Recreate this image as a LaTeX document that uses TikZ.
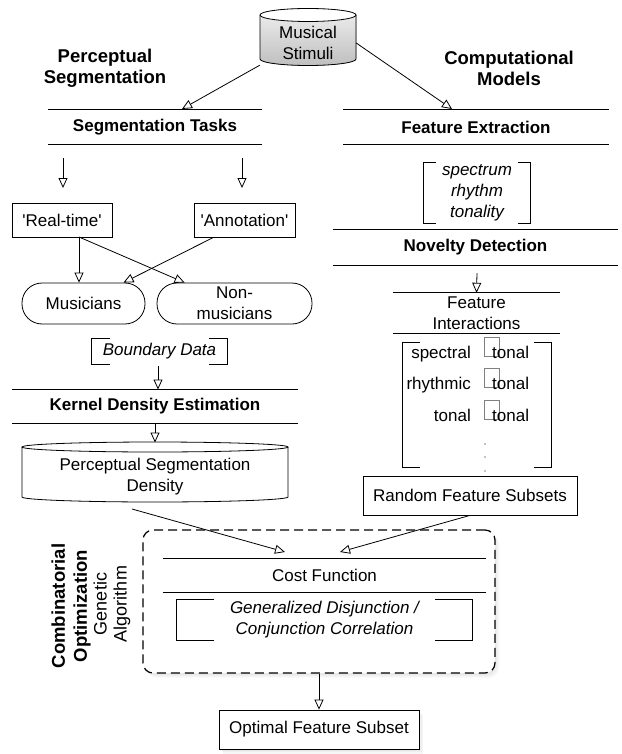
\documentclass[tikz,border=0pt]{standalone}
\usepackage{fontspec}
\setmainfont{Liberation Sans}
\usetikzlibrary{arrows.meta,calc,shadows}
\newcommand\brk[2]{%
  \draw[ln] ($(#1.north west)+(#2,0)$) -| (#1.south west) -- ++(#2,0);
  \draw[ln] ($(#1.north east)+(-#2,0)$) -| (#1.south east) -- ++(-#2,0);}
\newcommand\sect[1]{%
  \draw[ln] (#1.north west) -- (#1.north east);
  \draw[ln] (#1.south west) -- (#1.south east);}
\begin{document}
\begin{tikzpicture}[x=1pt,y=-1pt,
  every node/.style={font=\fontsize{17}{21}\selectfont, inner sep=0pt, align=center},
  hd/.style={font=\fontsize{17}{20.5}\selectfont\bfseries},
  bighd/.style={font=\fontsize{18.5}{21}\selectfont\bfseries},
  it/.style={font=\fontsize{17}{21}\selectfont\itshape},
  ln/.style={line width=0.8pt},
  arr/.style={line width=0.8pt, -{Triangle[open,length=10pt,width=9pt]}},
  sq/.style={draw=gray, line width=0.7pt, minimum width=15pt, minimum height=19pt},
  bx/.style={draw, line width=0.8pt, fill=white},
  softshadow/.style={
    drop shadow={shadow xshift=1pt, shadow yshift=-1.5pt, opacity=0.07},
    drop shadow={shadow xshift=2.5pt, shadow yshift=-3pt, opacity=0.07},
    drop shadow={shadow xshift=4pt, shadow yshift=-4.5pt, opacity=0.07}}
]
\useasboundingbox (0,0) rectangle (621,754);

% Musical stimuli cylinder
\fill[top color=gray!12, bottom color=gray!50] (260,15) -- (260,59)
  arc[start angle=180,end angle=360,x radius=48pt,y radius=6.5pt] -- (356,15)
  arc[start angle=0,end angle=180,x radius=48pt,y radius=6.5pt] -- cycle;
\draw[ln] (260,15) -- (260,59)
  arc[start angle=180,end angle=360,x radius=48pt,y radius=6.5pt] -- (356,15);
\draw[ln, fill=white] (308,15) ellipse [x radius=48pt, y radius=6.5pt];
\node[minimum width=96pt, minimum height=44pt] (stim) at (308,43) {Musical\\Stimuli};

% headings
\node[bighd] (perc) at (105,68) {Perceptual\\Segmentation};
\node[bighd] (comp) at (509,68) {Computational\\Models};

% sections
\node[hd, minimum width=214pt, minimum height=34pt] (segtasks) at (155,127) {Segmentation Tasks};
\sect{segtasks}
\node[hd, minimum width=266pt, minimum height=34pt] (featext) at (476,127) {Feature Extraction};
\sect{featext}
\node[hd, minimum width=285pt, minimum height=35pt] (novelty) at (475.5,247.5) {Novelty Detection};
\sect{novelty}
\node[minimum width=167pt, minimum height=40pt] (featint) at (476.5,313) {Feature\\Interactions};
\sect{featint}
\node[hd, minimum width=286pt, minimum height=33pt] (kde) at (155,406.5) {Kernel Density Estimation};
\sect{kde}

% spectrum bracket
\node[it, minimum width=106pt, minimum height=60pt] (spec) at (477,193) {spectrum\\rhythm\\tonality};
\brk{spec}{12}

% left boxes
\node[bx, minimum width=100pt, minimum height=34pt] (rt) at (62,220) {\textquotesingle Real-time\textquotesingle};
\node[bx, minimum width=101pt, minimum height=34pt] (ann) at (244.5,220) {\textquotesingle Annotation\textquotesingle};
\node[bx, rounded corners=20pt, minimum width=123pt, minimum height=41pt] (mus) at (83.5,303.5) {Musicians};
\node[bx, rounded corners=20pt, minimum width=155pt, minimum height=41pt] (nonmus) at (234.5,303.5) {Non-\\musicians};

\node[it, minimum width=135pt, minimum height=25pt] (bdata) at (159.5,351.5) {Boundary Data};
\brk{bdata}{18}

% density cylinder
\draw[ln, fill=white] (22,447) -- (22,497)
  arc[start angle=180,end angle=360,x radius=133pt,y radius=5pt] -- (288,447);
\draw[ln] (155,447) ellipse [x radius=133pt, y radius=5pt];
\node[minimum width=266pt, minimum height=50pt] (dens) at (155,477) {Perceptual Segmentation\\Density};

% matrix
\node[minimum width=148pt, minimum height=124pt] (mat) at (477,405) {};
\brk{mat}{17}
\node[sq] (sq1) at (491.5,346.5) {};
\node[sq] (sq2) at (491.5,378) {};
\node[sq] (sq3) at (491.5,410) {};
\node[anchor=base east] (l1) at (471,358) {spectral};
\node[anchor=base east] (l2) at (471,389.5) {rhythmic};
\node[anchor=base east] (l3) at (471,421.5) {tonal};
\node[anchor=base west] (r1) at (492,358) {tonal};
\node[anchor=base west] (r2) at (492,389.5) {tonal};
\node[anchor=base west] (r3) at (492,421.5) {tonal};
\foreach \yy in {444,457,471} \fill (485,\yy) circle (0.7pt);

\node[bx, minimum width=214pt, minimum height=39pt] (rfs) at (470,495.5) {Random Feature Subsets};

% combinatorial optimization
\node[draw=black, line width=1.2pt, dash pattern=on 9pt off 5pt, rounded corners=10pt, fill=white,
  softshadow, minimum width=352pt, minimum height=143pt] (dbox) at (319,601.5) {};
\node[minimum width=323pt, minimum height=33pt] (cost) at (324.5,575.5) {Cost Function};
\sect{cost}
\node[it, minimum width=295pt, minimum height=40pt] (gen) at (324.5,620) {Generalized Disjunction /\\Conjunction Correlation};
\brk{gen}{37}
\node[rotate=90, font=\fontsize{18.5}{22}\selectfont\bfseries] (combopt) at (71,606) {Combinatorial\\Optimization};
\node[rotate=90, font=\fontsize{18}{20}\selectfont] (ga) at (112,604) {Genetic\\Algorithm};

\node[bx, softshadow, minimum width=200pt, minimum height=39pt] (opt) at (319,729.5) {Optimal Feature Subset};

% connectors
\coordinate (segin) at (182,109);
\coordinate (featin) at (452,109);
\draw[arr] (stim.south west) -- (segin);
\draw[arr] (stim.east) -- (featin);
\coordinate (a1s) at (63,158); \coordinate (a1e) at (63,188);
\coordinate (a2s) at (242,158); \coordinate (a2e) at (242,188);
\draw[arr] (a1s) -- (a1e);
\draw[arr] (a2s) -- (a2e);
\coordinate (rtout) at (79,237);
\draw[arr] (rtout) -- (rtout |- mus.north);
\draw[arr] (rtout) -- ($(nonmus.north west)+(28,0)$);
\draw[arr] ($(ann.south)+(-31,0)$) -- ($(mus.north)+(40,0)$);
\draw[arr] ($(bdata.south)+(-1.5,2)$) -- (158,389.5);
\draw[arr] (kde.south) -- (155,442.5);
\draw[arr] ($(novelty.south)+(1.5,8)$) -- (featint.north);
\coordinate (densout) at (132,509);
\coordinate (costl) at (285,552);
\coordinate (costr) at (340,552);
\draw[arr] (densout) -- (costl);
\draw[arr] (rfs.south) -- (costr);
\draw[arr] (dbox.south) -- (opt.north);
\end{tikzpicture}
\end{document}
